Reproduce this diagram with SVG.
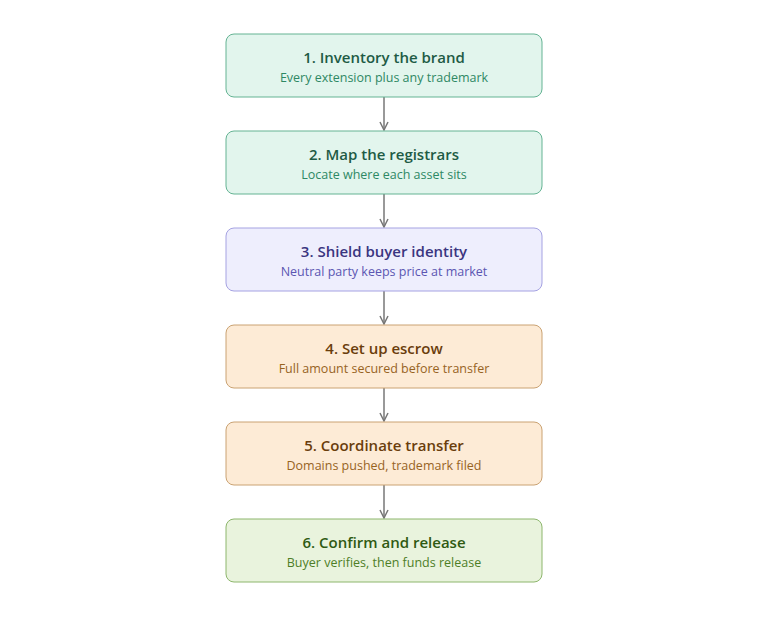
<svg xmlns="http://www.w3.org/2000/svg" width="768" height="632" viewBox="0 0 768 632">
<defs>
<marker id="arr" viewBox="0 0 10 10" refX="9" refY="5" markerWidth="10" markerHeight="10" markerUnits="userSpaceOnUse" orient="auto">
<path d="M1,1 L9,5 L1,9" fill="none" stroke="#777" stroke-width="1.5"/>
</marker>
<style>
.t{font-family:"Open Sans","Noto Sans",sans-serif;font-size:15px;font-weight:600;text-anchor:middle}
.s{font-family:"Open Sans","Noto Sans",sans-serif;font-size:12.5px;text-anchor:middle}
.g rect{fill:#e2f5ed;stroke:#64b393}.g .t{fill:#1e5b45}.g .s{fill:#2e8864}
.p rect{fill:#eeeefd;stroke:#a5a2e2}.p .t{fill:#3a3580}.p .s{fill:#5b56b2}
.o rect{fill:#fdebd6;stroke:#caa272}.o .t{fill:#6a3d0c}.o .s{fill:#97631f}
.l rect{fill:#e9f3dd;stroke:#8db66c}.l .t{fill:#2f5a12}.l .s{fill:#4e7e27}
rect{stroke-width:1}
.c line{stroke:#777;stroke-width:1.5;fill:none}
</style>
</defs>
<rect width="768" height="632" fill="#fff"/>
<g class="c">
<line x1="384" y1="97" x2="384" y2="130" marker-end="url(#arr)"/>
<line x1="384" y1="194" x2="384" y2="227" marker-end="url(#arr)"/>
<line x1="384" y1="291" x2="384" y2="324" marker-end="url(#arr)"/>
<line x1="384" y1="388" x2="384" y2="421" marker-end="url(#arr)"/>
<line x1="384" y1="485" x2="384" y2="518" marker-end="url(#arr)"/>
</g>
<g id="n1" class="g"><rect x="226" y="34" width="316" height="63" rx="8"/><text class="t" x="384" y="63">1. Inventory the brand</text><text class="s" x="384" y="82">Every extension plus any trademark</text></g>
<g id="n2" class="g"><rect x="226" y="131" width="316" height="63" rx="8"/><text class="t" x="384" y="160">2. Map the registrars</text><text class="s" x="384" y="179">Locate where each asset sits</text></g>
<g id="n3" class="p"><rect x="226" y="228" width="316" height="63" rx="8"/><text class="t" x="384" y="257">3. Shield buyer identity</text><text class="s" x="384" y="276">Neutral party keeps price at market</text></g>
<g id="n4" class="o"><rect x="226" y="325" width="316" height="63" rx="8"/><text class="t" x="384" y="354">4. Set up escrow</text><text class="s" x="384" y="373">Full amount secured before transfer</text></g>
<g id="n5" class="o"><rect x="226" y="422" width="316" height="63" rx="8"/><text class="t" x="384" y="451">5. Coordinate transfer</text><text class="s" x="384" y="470">Domains pushed, trademark filed</text></g>
<g id="n6" class="l"><rect x="226" y="519" width="316" height="63" rx="8"/><text class="t" x="384" y="548">6. Confirm and release</text><text class="s" x="384" y="567">Buyer verifies, then funds release</text></g>
</svg>
